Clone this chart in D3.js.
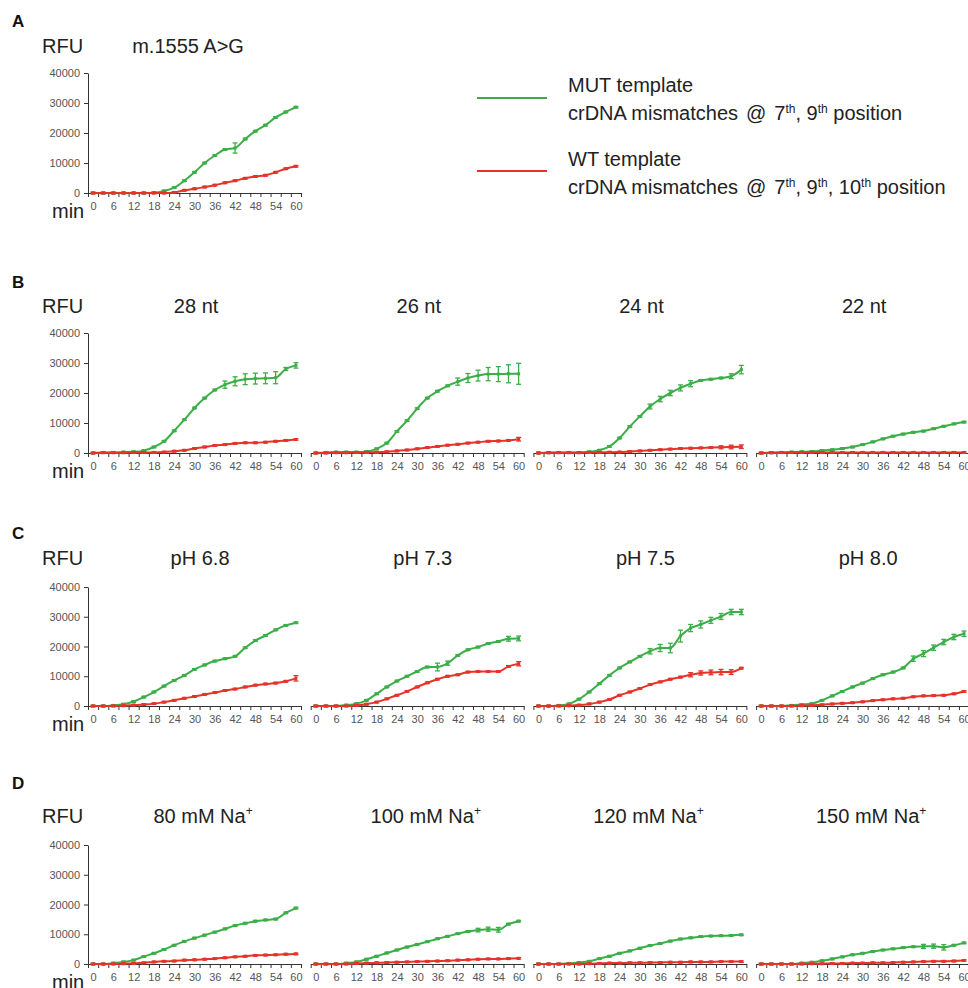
<!DOCTYPE html>
<html>
<head>
<meta charset="utf-8">
<script src="https://cdn.jsdelivr.net/npm/d3@7"></script>
<style>
  body { margin: 0; background: #fff; }
  svg { display: block; font-family: "Liberation Sans", Arial, sans-serif; }
  .tick text { fill: #555; font-size: 11px; }
  .domain, .tick line { stroke: #333; }
</style>
</head>
<body>
<svg id="chart" width="968" height="988"></svg>
<script>
// sampling times (min) and axis labels
const minutes = [0, 3, 6, 9, 12, 15, 18, 21, 24, 27, 30, 33, 36, 39, 42, 45, 48, 51, 54, 57, 60];
const xTickLabels = [0, 6, 12, 18, 24, 30, 36, 42, 48, 54, 60];
const yTicks = [0, 10000, 20000, 30000, 40000];

// titles
const titlesA = ["m.1555 A>G"];
const titlesB = ["28 nt", "26 nt", "24 nt", "22 nt"];
const titlesC = ["pH 6.8", "pH 7.3", "pH 7.5", "pH 8.0"];
const titlesD = ["80 mM Na", "100 mM Na", "120 mM Na", "150 mM Na"];

// A
const mutA = [0, 0, 0, 0, 0, 0, 100, 700, 1800, 4100, 6900, 10000, 12500, 14500, 15000, 18000, 20600, 22600, 25200, 27000, 28600];
const wtA = [0, 0, 0, 0, 0, 0, 0, 0, 200, 900, 1400, 2000, 2600, 3400, 4100, 4900, 5500, 5900, 6900, 8100, 8900];
const errMutA = [[42, 1700]];
const errWtA = [];

// B
const mutB28 = [0, 200, 200, 300, 400, 800, 2000, 3900, 7400, 11100, 15000, 18300, 21000, 22800, 23900, 24600, 24800, 24900, 25100, 28000, 29200];
const wtB28 = [0, 100, 100, 100, 150, 200, 200, 300, 600, 900, 1500, 2000, 2500, 2800, 3200, 3400, 3400, 3600, 3900, 4200, 4500];
const errMutB28 = [[39, 1200], [42, 1500], [45, 1800], [48, 1800], [51, 1800], [54, 2000], [57, 500], [60, 900]];
const errWtB28 = [];
const mutB26 = [0, 200, 300, 300, 300, 500, 1400, 3300, 7200, 10800, 14800, 18300, 20600, 22400, 23800, 25000, 25800, 26300, 26300, 26400, 26400];
const wtB26 = [0, 0, 100, 100, 150, 200, 250, 400, 700, 1000, 1400, 1800, 2200, 2600, 2900, 3300, 3600, 3900, 4000, 4200, 4600];
const errMutB26 = [[42, 1200], [45, 1500], [48, 1800], [51, 2200], [54, 2500], [57, 3000], [60, 3500]];
const errWtB26 = [[60, 600]];
const mutB24 = [0, 100, 200, 200, 200, 400, 900, 2200, 5000, 8800, 12200, 15500, 18000, 20000, 21700, 23100, 24200, 24600, 25000, 25600, 27800];
const wtB24 = [0, 100, 100, 100, 100, 150, 200, 250, 300, 500, 700, 900, 1100, 1300, 1500, 1600, 1700, 1800, 1900, 2000, 2100];
const errMutB24 = [[33, 800], [36, 900], [39, 900], [42, 1000], [45, 1000], [57, 800], [60, 1400]];
const errWtB24 = [[54, 500], [57, 600], [60, 600]];
const mutB22 = [0, 100, 200, 300, 400, 500, 800, 1100, 1500, 2000, 2800, 3700, 4700, 5600, 6300, 6900, 7300, 8100, 8900, 9700, 10300];
const wtB22 = [0, 100, 150, 200, 200, 200, 200, 200, 200, 200, 200, 200, 200, 200, 200, 200, 200, 200, 200, 200, 200];
const errMutB22 = [];
const errWtB22 = [];

// C
const mutC68 = [0, 0, 200, 600, 1500, 3000, 4700, 6700, 8600, 10300, 12300, 13800, 15100, 15900, 16700, 19600, 22000, 23700, 25600, 27100, 28000];
const wtC68 = [0, 0, 0, 100, 300, 500, 800, 1300, 1900, 2600, 3200, 3900, 4500, 5200, 5700, 6400, 7000, 7400, 7700, 8300, 9300];
const errMutC68 = [];
const errWtC68 = [[60, 900]];
const mutC73 = [0, 0, 0, 300, 800, 1900, 4100, 6400, 8400, 10000, 11600, 13100, 13100, 14400, 17000, 18900, 19800, 21000, 21700, 22600, 22700];
const wtC73 = [0, 0, 0, 0, 200, 600, 1300, 2400, 3600, 4900, 6400, 7800, 9000, 10000, 10500, 11400, 11600, 11600, 11600, 13300, 14200];
const errMutC73 = [[36, 1300], [39, 700], [57, 800], [60, 800]];
const errWtC73 = [[60, 700]];
const mutC75 = [0, 0, 200, 700, 2300, 4700, 7500, 10300, 12800, 14800, 16700, 18400, 19500, 19500, 23500, 26200, 27400, 28800, 30100, 31600, 31600];
const wtC75 = [0, 0, 0, 100, 300, 700, 1300, 2200, 3600, 4700, 5900, 7200, 8100, 9000, 9700, 10500, 11100, 11300, 11400, 11400, 12700];
const errMutC75 = [[33, 900], [36, 1200], [39, 1600], [42, 2000], [45, 1200], [48, 1200], [51, 1000], [54, 1000], [57, 900], [60, 900]];
const errWtC75 = [[45, 700], [48, 700], [51, 800], [54, 900], [57, 800]];
const mutC80 = [0, 0, 0, 200, 500, 800, 1900, 3400, 4900, 6400, 7700, 9200, 10500, 11400, 12800, 15900, 17600, 19600, 21500, 23200, 24300];
const wtC80 = [0, 0, 0, 0, 100, 200, 400, 700, 900, 1100, 1400, 1800, 2100, 2400, 2600, 3100, 3400, 3500, 3600, 4100, 4900];
const errMutC80 = [[45, 900], [48, 1000], [51, 900], [54, 900], [57, 900], [60, 900]];
const errWtC80 = [];

// D
const mutD80 = [0, 0, 300, 700, 1300, 2500, 3600, 4900, 6300, 7600, 8700, 9700, 10700, 11800, 12900, 13700, 14400, 14800, 15100, 17200, 18800];
const wtD80 = [0, 0, 0, 100, 200, 400, 700, 900, 1000, 1300, 1400, 1600, 1800, 2100, 2400, 2600, 2900, 3000, 3100, 3300, 3400];
const errMutD80 = [];
const errWtD80 = [];
const mutD100 = [0, 0, 0, 300, 700, 1600, 2600, 3700, 4700, 5700, 6600, 7500, 8500, 9300, 10200, 10900, 11400, 11700, 11500, 13400, 14400];
const wtD100 = [0, 0, 0, 0, 200, 300, 400, 500, 600, 700, 800, 900, 1000, 1100, 1300, 1400, 1600, 1700, 1700, 1800, 1900];
const errMutD100 = [[48, 600], [51, 700], [54, 800]];
const errWtD100 = [];
const mutD120 = [0, 0, 0, 200, 500, 900, 1800, 2600, 3600, 4400, 5300, 6200, 6900, 7700, 8400, 8800, 9200, 9400, 9500, 9600, 9800];
const wtD120 = [0, 0, 0, 0, 0, 100, 200, 300, 300, 400, 400, 500, 500, 600, 600, 700, 700, 700, 800, 800, 800];
const errMutD120 = [];
const errWtD120 = [];
const mutD150 = [0, 0, 0, 0, 300, 600, 1100, 1700, 2400, 3100, 3600, 4200, 4700, 5100, 5500, 5800, 5900, 6000, 5600, 6300, 7100];
const wtD150 = [0, 0, 0, 0, 0, 100, 100, 200, 200, 300, 300, 400, 400, 500, 600, 700, 800, 900, 900, 1000, 1200];
const errMutD150 = [[48, 700], [51, 700], [54, 900]];
const errWtD150 = [];

const legendLabels = ["MUT template", "WT template"];

const GREEN = "#3cae48", RED = "#e6332a";
const baseErr = 250;

// layout
const rows = [
  { letter: "A", letterY: 27, titleY: 53, y0: 193, yTop: 73, titleDx: 95, titles: titlesA, sup: false,
    data: [[mutA, wtA, errMutA, errWtA]] },
  { letter: "B", letterY: 288, titleY: 313, y0: 453, yTop: 333, titleDx: 103, titles: titlesB, sup: false,
    data: [[mutB28, wtB28, errMutB28, errWtB28], [mutB26, wtB26, errMutB26, errWtB26], [mutB24, wtB24, errMutB24, errWtB24], [mutB22, wtB22, errMutB22, errWtB22]] },
  { letter: "C", letterY: 539, titleY: 565, y0: 706, yTop: 587, titleDx: 107, titles: titlesC, sup: false,
    data: [[mutC68, wtC68, errMutC68, errWtC68], [mutC73, wtC73, errMutC73, errWtC73], [mutC75, wtC75, errMutC75, errWtC75], [mutC80, wtC80, errMutC80, errWtC80]] },
  { letter: "D", letterY: 789, titleY: 823, y0: 964, yTop: 845, titleDx: 110, titles: titlesD, sup: true,
    data: [[mutD80, wtD80, errMutD80, errWtD80], [mutD100, wtD100, errMutD100, errWtD100], [mutD120, wtD120, errMutD120, errWtD120], [mutD150, wtD150, errMutD150, errWtD150]] }
];

const svg = d3.select("#chart");
const panelLeft = 88, panelStep = 222.7, panelW = 213;
const boundaries = minutes.map(m => m - 1.5).concat([61.5]);

function drawSeries(g, x, y, vals, errs, color) {
  const errMap = new Map(errs);
  const pts = minutes.map((m, i) => ({ m, v: vals[i], e: errMap.has(m) ? errMap.get(m) : baseErr }));
  const line = d3.line().x(d => x(d.m)).y(d => y(d.v)).curve(d3.curveMonotoneX);
  g.append("path").datum(pts).attr("d", line)
    .attr("fill", "none").attr("stroke", color).attr("stroke-width", 2);
  const eb = g.append("g").attr("stroke", color).attr("stroke-width", 1.3);
  pts.forEach(d => {
    const cx = x(d.m), y1 = y(d.v - d.e), y2 = y(d.v + d.e);
    eb.append("line").attr("x1", cx).attr("x2", cx).attr("y1", y1).attr("y2", y2);
    eb.append("line").attr("x1", cx - 2.5).attr("x2", cx + 2.5).attr("y1", y1).attr("y2", y1);
    eb.append("line").attr("x1", cx - 2.5).attr("x2", cx + 2.5).attr("y1", y2).attr("y2", y2);
  });
  g.append("g").selectAll("rect").data(pts).join("rect")
    .attr("x", d => x(d.m) - 1.5).attr("y", d => y(d.v) - 1.5)
    .attr("width", 3).attr("height", 3).attr("fill", color);
}

rows.forEach(row => {
  svg.append("text").attr("x", 12).attr("y", row.letterY)
    .attr("font-size", 17).attr("font-weight", "bold").attr("fill", "#111").text(row.letter);
  svg.append("text").attr("x", 42).attr("y", row.titleY)
    .attr("font-size", 20).attr("fill", "#222").text("RFU");
  svg.append("text").attr("x", 52).attr("y", row.y0 + 25)
    .attr("font-size", 20).attr("fill", "#222").text("min");

  row.data.forEach((series, i) => {
    const left = panelLeft + i * panelStep;
    const x = d3.scaleLinear().domain([-1.5, 61.5]).range([left, left + panelW]);
    const y = d3.scaleLinear().domain([0, 40000]).range([row.y0, row.yTop]);
    const g = svg.append("g");

    // title
    const t = g.append("text").attr("x", x(0) + row.titleDx).attr("y", row.titleY)
      .attr("text-anchor", "middle").attr("font-size", 20).attr("fill", "#222")
      .text(row.titles[i]);
    if (row.sup) t.append("tspan").attr("font-size", 12).attr("dy", -8).text("+");

    // x axis with ticks between categories
    g.append("g").attr("transform", `translate(0,${row.y0})`)
      .call(d3.axisBottom(x).tickValues(boundaries).tickFormat("").tickSize(4).tickSizeOuter(0));
    g.append("g").attr("transform", `translate(0,${row.y0})`)
      .call(d3.axisBottom(x).tickValues(xTickLabels).tickSize(0).tickPadding(9))
      .call(a => a.select(".domain").remove());

    if (i === 0) {
      g.append("g").attr("transform", `translate(${x(-1.5)},0)`)
        .call(d3.axisLeft(y).tickValues(yTicks).tickFormat(d3.format("d")).tickSize(4).tickSizeOuter(0).tickPadding(4));
    }

    drawSeries(g, x, y, series[0], series[2], GREEN);
    drawSeries(g, x, y, series[1], series[3], RED);
  });
});

// legend
const legend = svg.append("g").attr("font-size", 20).attr("fill", "#222");
[[GREEN, 98, 92, ["7", "9"], legendLabels[0]], [RED, 171, 166, ["7", "9", "10"], legendLabels[1]]].forEach(item => {
  const [color, ly, ty, nums, label] = item;
  legend.append("line").attr("x1", 477).attr("x2", 547).attr("y1", ly).attr("y2", ly)
    .attr("stroke", color).attr("stroke-width", 2);
  legend.append("text").attr("x", 568).attr("y", ty).text(label);
  const t2 = legend.append("text").attr("x", 568).attr("y", ty + 28);
  t2.append("tspan").text("crDNA mismatches");
  t2.append("tspan").attr("dx", 8).text("@");
  nums.forEach((n, k) => {
    t2.append("tspan").attr("dx", k === 0 ? 8 : 0).attr("dy", k === 0 ? 0 : 7).text((k === 0 ? "" : ", ") + n);
    t2.append("tspan").attr("font-size", 12).attr("dy", -7).text("th");
  });
  t2.append("tspan").attr("dy", 7).text(" position");
});
</script>
</body>
</html>
